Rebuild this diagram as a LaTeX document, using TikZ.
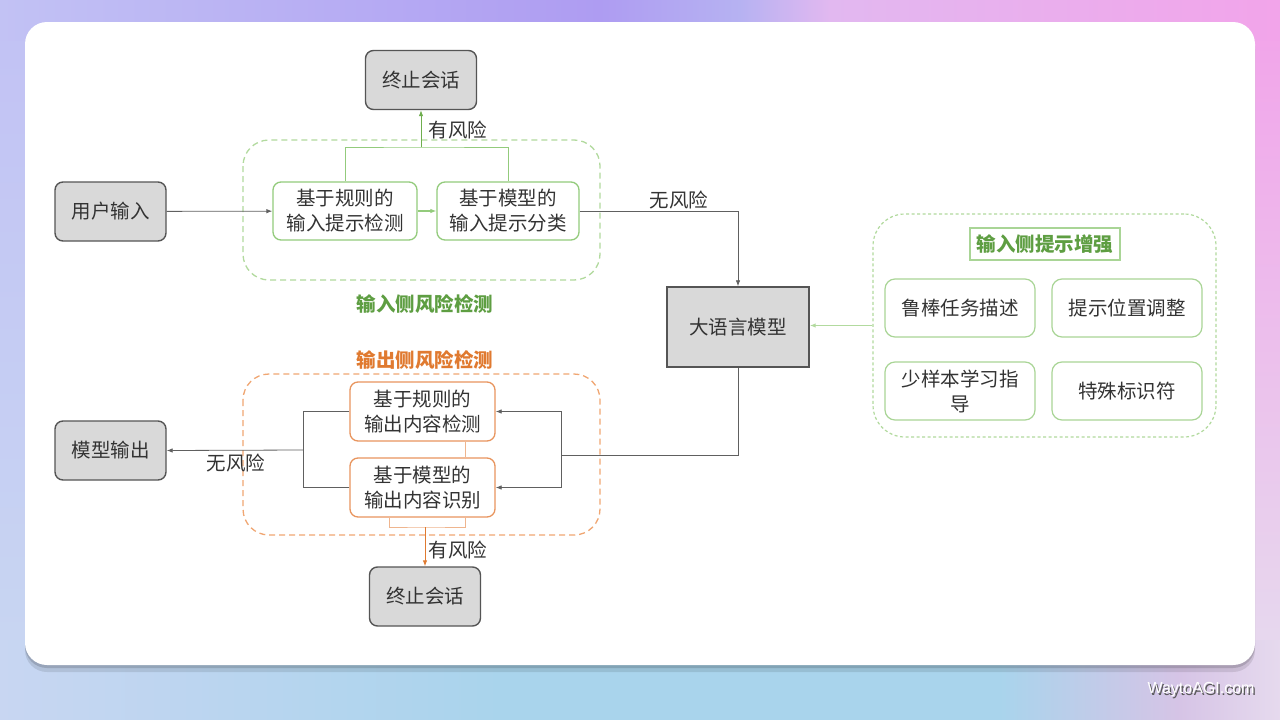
\documentclass[tikz,border=0pt]{standalone}
\usepackage{fontspec}
\setmainfont{Noto Sans CJK SC}
\setsansfont{Liberation Sans}
\usepackage{xcolor}
\definecolor{ink}{HTML}{333333}
\definecolor{boxgray}{HTML}{D9D9D9}
\definecolor{boxline}{HTML}{555555}
\definecolor{flowgray}{HTML}{606060}
\definecolor{grnline}{HTML}{93CB7C}
\definecolor{grnframe}{HTML}{B2DA9E}
\definecolor{grntext}{HTML}{5E9E42}
\definecolor{grnarrow}{HTML}{6FAE4E}
\definecolor{orgline}{HTML}{E8955E}
\definecolor{orgframe}{HTML}{F0A672}
\definecolor{orgtext}{HTML}{E07A30}
\definecolor{bgtopA}{HTML}{C2C2F4}
\definecolor{bgtopB}{HTML}{AE9CF2}
\definecolor{bgtopC}{HTML}{B6B2F2}
\definecolor{bgtopD}{HTML}{E2B8F0}
\definecolor{bgtopE}{HTML}{F2A4EA}
\definecolor{bgbotA}{HTML}{C8D6F2}
\definecolor{bgbotB}{HTML}{A9D4EC}
\definecolor{bgbotC}{HTML}{D6C4E6}
\definecolor{bgbotD}{HTML}{E6DAEE}
\usetikzlibrary{arrows.meta, positioning, calc}

\begin{document}
\begin{tikzpicture}[x=1pt, y=-1pt,
  every node/.style={font=\fontsize{19.5}{25}\selectfont, text=ink},
  endbox/.style={draw=boxline, fill=boxgray, line width=1.4pt, rounded corners=8pt,
                 minimum width=111pt, minimum height=59pt},
  inbox/.style={draw=grnline, fill=white, line width=1.3pt, rounded corners=8pt,
                minimum width=144pt, minimum height=58pt, align=center},
  outbox/.style={draw=orgline, fill=white, line width=1.3pt, rounded corners=8pt,
                 minimum width=145pt, minimum height=59pt, align=center},
  tipbox/.style={draw=grnline!80, fill=white, line width=1.2pt, rounded corners=10pt,
                 minimum width=150pt, minimum height=58pt, align=center},
  flow/.style={draw=flowgray, line width=0.8pt},
  arr/.style={-{Latex[length=6pt,width=4.5pt]}},
  grptitle/.style={font=\fontsize{19.5}{22}\selectfont\bfseries}
]
  \useasboundingbox (0,0) rectangle (1280,720);

  % backdrop and card
  \shade[top color=bgtopA, bottom color=bgbotA] (0,20) rectangle (40,670);
  \shade[top color=bgtopE, bottom color=bgbotD] (1240,20) rectangle (1280,670);
  \foreach \xa/\xb/\ca/\cb in {0/600/bgtopA/bgtopB, 600/740/bgtopB/bgtopC,
                               740/830/bgtopC/bgtopD, 830/1280/bgtopD/bgtopE}
    \shade[left color=\ca, right color=\cb] (\xa-0.5,0) rectangle (\xb+0.5,40);
  \foreach \xa/\xb/\ca/\cb in {0/500/bgbotA/bgbotB, 500/1000/bgbotB/bgbotB,
                               1000/1180/bgbotB/bgbotC, 1180/1280/bgbotC/bgbotD}
    \shade[left color=\ca, right color=\cb] (\xa-0.5,640) rectangle (\xb+0.5,720);
  \fill[black, opacity=0.10, rounded corners=22pt] (25,27) rectangle (1255,672);
  \fill[black, opacity=0.14, rounded corners=22pt] (25,24) rectangle (1255,668);
  \fill[white, rounded corners=22pt] (25,22) rectangle (1255,665);

  % group frames
  \draw[grnframe, line width=1.3pt, dash pattern=on 6pt off 4pt, rounded corners=26pt]
    (243,140) rectangle (600,280);
  \draw[orgframe, line width=1.3pt, dash pattern=on 6pt off 4pt, rounded corners=26pt]
    (243,374) rectangle (600,535);
  \node[draw=grnframe, line width=1.2pt, dash pattern=on 3pt off 2.5pt, rounded corners=32pt,
        minimum width=343pt, minimum height=223pt] (tipgrp) at (1044.5,325.5) {};

  \node[grptitle, text=grntext] (intitle) at (425,304) {输入侧风险检测};
  \node[grptitle, text=orgtext] (outtitle) at (425,360) {输出侧风险检测};

  % nodes
  \node[endbox] (userin) at (110.5,211.5) {用户输入};
  \node[endbox] (userout) at (110.5,450.5) {模型输出};
  \node[endbox] (stopin) at (421,80) {终止会话};
  \node[endbox] (stopout) at (425,596.5) {终止会话};

  \node[inbox] (rulein) at (345,211) {基于规则的\\输入提示检测};
  \node[inbox, minimum width=142pt] (modelin) at (508,211) {基于模型的\\输入提示分类};

  \node[draw=boxline, fill=boxgray, line width=1.4pt, minimum width=142pt,
        minimum height=80pt] (llm) at (738,327) {大语言模型};

  \node[outbox] (ruleout) at (422.5,411.5) {基于规则的\\输出内容检测};
  \node[outbox] (modelout) at (422.5,487.5) {基于模型的\\输出内容识别};

  \node[draw=grnline!80, line width=1.1pt, grptitle, text=grntext, minimum width=150pt,
        minimum height=32pt] (tiptitle) at (1045,244) {输入侧提示增强};
  \node[tipbox] (tiprobust) at (960,308) {鲁棒任务描述};
  \node[tipbox] (tipplace) at (1127,308) {提示位置调整};
  \node[tipbox] (tipfew) at (960,391) {少样本学习指\\导};
  \node[tipbox] (tipmark) at (1127,391) {特殊标识符};

  % labels
  \node (riskin) at (458,130) {有风险};
  \node (saferin) at (679,200) {无风险};
  \node (safeout) at (236,463) {无风险};
  \node (riskout) at (458,550) {有风险};

  % input side
  \coordinate (inmerge) at (421,147);
  \draw[flow, arr] (userin) -- (rulein);
  \draw[grnline, line width=1.1pt, arr] (rulein) -- (modelin);
  \draw[grnline, line width=0.7pt] (rulein.north) |- (inmerge) -| (modelin.north);
  \draw[grnarrow, line width=0.9pt, arr] (inmerge) -- (stopin.south);
  \draw[flow, arr] (modelin.east) -| (llm.north);
  \draw[grnframe, line width=1.2pt, arr] (tipgrp.west) -- (tipgrp.west -| llm.east);

  % output side
  \coordinate (outsplit) at (561,455);
  \coordinate (outjoin) at (303,450);
  \coordinate (outmerge) at (425,527);
  \draw[flow] (llm.south) |- (outsplit);
  \draw[flow, arr] (outsplit) |- (ruleout.east);
  \draw[flow, arr] (outsplit) |- (modelout.east);
  \draw[flow] (ruleout.west) -| (outjoin);
  \draw[flow] (modelout.west) -| (outjoin);
  \draw[flow, arr] (outjoin) -- (userout.east);
  \draw[orgline!70, line width=0.7pt] ([xshift=43pt]ruleout.south) -- ([xshift=43pt]modelout.north);
  \draw[orgline!70, line width=0.7pt] ([xshift=43pt]modelout.south) |- (outmerge)
    -| ([xshift=-33pt]modelout.south);
  \draw[orgtext, line width=0.9pt, arr] (outmerge) -- (stopout.north);

  % watermark
  \node[font=\sffamily\fontsize{16}{18}\selectfont, text=black!65] at (1202.5,692) {WaytoAGI.com};
  \node[font=\sffamily\fontsize{16}{18}\selectfont, text=white] (mark) at (1201,690) {WaytoAGI.com};
\end{tikzpicture}
\end{document}
